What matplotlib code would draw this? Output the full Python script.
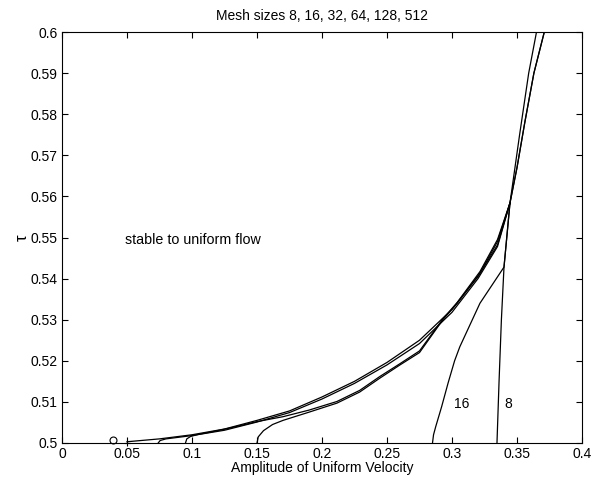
import matplotlib
matplotlib.use("Agg")
import matplotlib.pyplot as plt

plt.rcParams['font.family'] = ['Liberation Sans', 'DejaVu Sans']

title = "Mesh sizes 8, 16, 32, 64, 128, 512"
xlabel = "Amplitude of Uniform Velocity"
ylabel = "τ"

# mesh 512 (smooth upper envelope)
x512 = [0.050, 0.075, 0.100, 0.125, 0.150, 0.175, 0.200, 0.225, 0.250, 0.275, 0.300, 0.320, 0.335, 0.3446, 0.350, 0.356, 0.363, 0.371]
y512 = [0.5003, 0.5010, 0.5020, 0.5034, 0.5055, 0.5078, 0.5112, 0.5150, 0.5196, 0.5250, 0.5325, 0.5405, 0.5482, 0.5584, 0.5670, 0.5780, 0.5900, 0.6000]
# mesh 128
x128 = [0.074, 0.0755, 0.080, 0.090, 0.100, 0.125, 0.150, 0.175, 0.200, 0.225, 0.250, 0.275, 0.300, 0.320, 0.335, 0.3446, 0.350, 0.356, 0.363, 0.371]
y128 = [0.5000, 0.5006, 0.5010, 0.5014, 0.5018, 0.5031, 0.5051, 0.5074, 0.5107, 0.5145, 0.5190, 0.5242, 0.5318, 0.5400, 0.5478, 0.5584, 0.5670, 0.5780, 0.5900, 0.6000]
# mesh 64
x64 = [0.095, 0.096, 0.099, 0.105, 0.115, 0.130, 0.150, 0.170, 0.190, 0.2115, 0.229, 0.2446, 0.260, 0.275, 0.293, 0.304, 0.3215, 0.335, 0.3446]
y64 = [0.5000, 0.5010, 0.5016, 0.5021, 0.5027, 0.5037, 0.5052, 0.5064, 0.5080, 0.5101, 0.5128, 0.5162, 0.5193, 0.5224, 0.5302, 0.5342, 0.5417, 0.5495, 0.5584]
# mesh 32
x32 = [0.150, 0.151, 0.155, 0.162, 0.170, 0.190, 0.2115, 0.229, 0.2446, 0.260, 0.275, 0.293, 0.304, 0.3215, 0.335, 0.3446]
y32 = [0.5000, 0.5015, 0.5030, 0.5045, 0.5055, 0.5075, 0.5097, 0.5124, 0.5158, 0.5190, 0.5220, 0.5300, 0.5340, 0.5413, 0.5490, 0.5584]
# mesh 16
x16 = [0.285, 0.2858, 0.2875, 0.289, 0.292, 0.297, 0.302, 0.306, 0.3215, 0.340, 0.3446]
y16 = [0.5000, 0.5020, 0.5040, 0.5056, 0.5088, 0.5146, 0.5200, 0.5234, 0.5340, 0.5428, 0.5584]
# mesh 8
x8 = [0.3346, 0.3362, 0.3380, 0.3400, 0.3446, 0.3520, 0.3590, 0.3650]
y8 = [0.5000, 0.5150, 0.5300, 0.5428, 0.5584, 0.5750, 0.5900, 0.6000]

circle_pt = (0.039, 0.5008)
plus_pt = (0.050, 0.5000)

xticks = [0, 0.05, 0.1, 0.15, 0.2, 0.25, 0.3, 0.35, 0.4]
xticklabels = ["0", "0.05", "0.1", "0.15", "0.2", "0.25", "0.3", "0.35", "0.4"]
yticks = [0.5, 0.51, 0.52, 0.53, 0.54, 0.55, 0.56, 0.57, 0.58, 0.59, 0.6]
yticklabels = ["0.5", "0.51", "0.52", "0.53", "0.54", "0.55", "0.56", "0.57", "0.58", "0.59", "0.6"]

fig = plt.figure(figsize=(6, 4.8), dpi=100)
ax = fig.add_axes([0.1033, 0.0771, 0.8667, 0.8562])

lw = 0.9
for xs, ys in [(x512, y512), (x128, y128), (x64, y64), (x32, y32), (x16, y16), (x8, y8)]:
    ax.plot(xs, ys, color='black', lw=lw)

ax.plot([circle_pt[0]], [circle_pt[1]], marker='o', mfc='none', mec='black', ms=5, mew=0.8, clip_on=False)
ax.plot([plus_pt[0]], [plus_pt[1]], marker='+', color='black', ms=4, mew=0.8, clip_on=False)

ax.text(0.3077, 0.5095, "16", fontsize=10, ha='center', va='center')
ax.text(0.343, 0.5095, "8", fontsize=10, ha='center', va='center')
ax.text(0.0485, 0.5494, "stable to uniform flow", fontsize=10.3, ha='left', va='center')

ax.set_xlim(0, 0.4)
ax.set_ylim(0.5, 0.6)
ax.set_xticks(xticks)
ax.set_xticklabels(xticklabels)
ax.set_yticks(yticks)
ax.set_yticklabels(yticklabels)
ax.tick_params(direction='in', top=True, right=True, length=4, labelsize=10, width=0.8, pad=3)
for s in ax.spines.values():
    s.set_linewidth(0.8)

ax.set_title(title, fontsize=10, pad=9)
ax.set_xlabel(xlabel, fontsize=10, labelpad=0)
ax.set_ylabel(ylabel, fontsize=12, labelpad=1)

fig.savefig("out.png", dpi=100)
